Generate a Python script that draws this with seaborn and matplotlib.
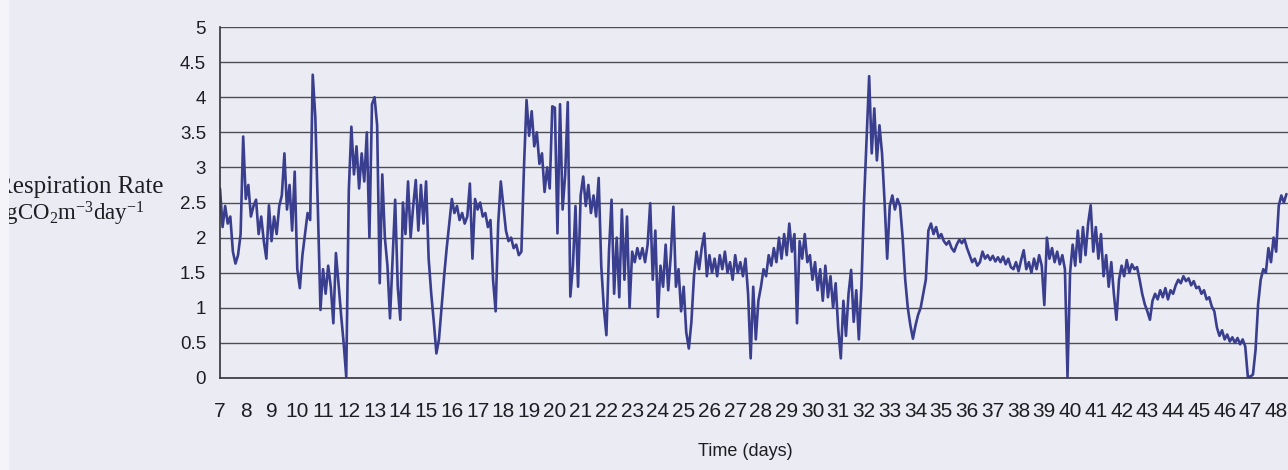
import numpy as np
import pandas as pd
import matplotlib
matplotlib.use("Agg")
import matplotlib.pyplot as plt
from matplotlib.patches import Rectangle
import seaborn as sns

rate = [
    # day 7
    2.70, 2.15, 2.45, 2.20, 2.30, 1.80, 1.63, 1.75, 2.05, 3.44,
    # day 8
    2.55, 2.75, 2.30, 2.45, 2.54, 2.05, 2.30, 1.95, 1.70, 2.46,
    # day 9
    1.95, 2.30, 2.05, 2.45, 2.60, 3.20, 2.40, 2.75, 2.10, 2.94,
    # day 10
    1.55, 1.28, 1.75, 2.05, 2.35, 2.25, 4.32, 3.72, 2.40, 0.97,
    # day 11
    1.55, 1.20, 1.60, 1.30, 0.78, 1.78, 1.35, 0.90, 0.50, 0.02,
    # day 12
    2.67, 3.58, 2.90, 3.30, 2.70, 3.20, 2.80, 3.50, 2.00, 3.90,
    # day 13
    4.00, 3.60, 1.35, 2.90, 2.00, 1.60, 0.85, 1.70, 2.54, 1.30,
    # day 14
    0.83, 2.50, 2.05, 2.80, 2.00, 2.45, 2.82, 2.10, 2.75, 2.20,
    # day 15
    2.80, 1.70, 1.20, 0.80, 0.35, 0.55, 1.00, 1.45, 1.85, 2.20,
    # day 16
    2.55, 2.35, 2.45, 2.25, 2.35, 2.20, 2.30, 2.77, 1.70, 2.55,
    # day 17
    2.40, 2.50, 2.30, 2.35, 2.15, 2.25, 1.40, 0.95, 2.20, 2.80,
    # day 18
    2.45, 2.10, 1.95, 2.00, 1.85, 1.90, 1.75, 1.80, 3.00, 3.96,
    # day 19
    3.45, 3.80, 3.30, 3.50, 3.05, 3.20, 2.65, 3.00, 2.70, 3.87,
    # day 20
    3.85, 2.06, 3.90, 2.40, 2.90, 3.93, 1.16, 1.60, 2.45, 1.30,
    # day 21
    2.60, 2.87, 2.45, 2.75, 2.35, 2.60, 2.30, 2.85, 1.60, 1.00,
    # day 22
    0.61, 1.80, 2.54, 1.20, 2.00, 1.15, 2.40, 1.40, 2.30, 1.00,
    # day 23
    1.80, 1.65, 1.85, 1.70, 1.85, 1.65, 1.90, 2.49, 1.40, 2.10,
    # day 24
    0.87, 1.60, 1.30, 1.90, 1.25, 1.75, 2.44, 1.30, 1.55, 0.95,
    # day 25
    1.30, 0.65, 0.42, 0.80, 1.45, 1.80, 1.55, 1.85, 2.06, 1.45,
    # day 26
    1.75, 1.50, 1.70, 1.45, 1.75, 1.55, 1.80, 1.50, 1.65, 1.40,
    # day 27
    1.75, 1.50, 1.65, 1.45, 1.70, 1.20, 0.28, 1.30, 0.55, 1.10,
    # day 28
    1.30, 1.55, 1.45, 1.75, 1.60, 1.85, 1.65, 2.00, 1.70, 2.05,
    # day 29
    1.75, 2.20, 1.80, 2.05, 0.78, 1.95, 1.70, 2.05, 1.65, 1.75,
    # day 30
    1.40, 1.65, 1.25, 1.55, 1.10, 1.60, 1.15, 1.45, 1.00, 1.35,
    # day 31
    0.70, 0.28, 1.10, 0.60, 1.20, 1.54, 0.80, 1.25, 0.55, 1.30,
    # day 32
    2.50, 3.40, 4.30, 3.20, 3.84, 3.10, 3.60, 3.20, 2.50, 1.70,
    # day 33
    2.45, 2.60, 2.40, 2.55, 2.45, 2.00, 1.40, 1.00, 0.75, 0.56,
    # day 34
    0.75, 0.90, 1.00, 1.20, 1.40, 2.10, 2.20, 2.05, 2.15, 2.00,
    # day 35
    2.05, 1.95, 1.90, 1.95, 1.85, 1.80, 1.90, 1.97, 1.92, 1.98,
    # day 36
    1.85, 1.75, 1.65, 1.70, 1.60, 1.65, 1.80, 1.70, 1.75, 1.68,
    # day 37
    1.74, 1.66, 1.72, 1.65, 1.73, 1.62, 1.70, 1.58, 1.55, 1.65,
    # day 38
    1.52, 1.68, 1.82, 1.55, 1.65, 1.50, 1.70, 1.55, 1.75, 1.60,
    # day 39
    1.04, 2.00, 1.70, 1.85, 1.65, 1.80, 1.62, 1.75, 1.55, 0.02,
    # day 40
    1.50, 1.90, 1.60, 2.10, 1.65, 2.15, 1.75, 2.20, 2.46, 1.80,
    # day 41
    2.15, 1.70, 2.05, 1.45, 1.75, 1.30, 1.65, 1.20, 0.83, 1.40,
    # day 42
    1.60, 1.45, 1.68, 1.50, 1.62, 1.55, 1.58, 1.40, 1.20, 1.05,
    # day 43
    0.95, 0.83, 1.10, 1.20, 1.12, 1.25, 1.15, 1.28, 1.12, 1.25,
    # day 44
    1.20, 1.32, 1.40, 1.35, 1.45, 1.38, 1.42, 1.32, 1.38, 1.28,
    # day 45
    1.30, 1.20, 1.25, 1.12, 1.15, 1.02, 0.95, 0.72, 0.60, 0.68,
    # day 46
    0.55, 0.62, 0.52, 0.58, 0.50, 0.57, 0.48, 0.55, 0.45, 0.02,
    # day 47
    0.02, 0.05, 0.40, 1.05, 1.40, 1.55, 1.50, 1.85, 1.65, 2.00,
    # day 48
    1.80, 2.45, 2.60, 2.50, 2.62,
]
start_day = 7.0
step_day = 0.1
day_ticks = list(range(7, 49))
y_ticks = [0, 0.5, 1, 1.5, 2, 2.5, 3, 3.5, 4, 4.5, 5]
y_tick_labels = ["0", "0.5", "1", "1.5", "2", "2.5", "3", "3.5", "4", "4.5", "5"]

df = pd.DataFrame({
    "day": np.round(start_day + step_day * np.arange(len(rate)), 2),
    "rate": rate,
})

bg = "#ebebf3"
line_color = "#3a3e8e"
grid_color = "#4d4d55"
axis_color = "#333338"
text_color = "#1e1e22"

sns.set_theme(style="white")
plt.rcParams["font.family"] = ["Liberation Sans", "DejaVu Sans"]
plt.rcParams["mathtext.fontset"] = "custom"
plt.rcParams["mathtext.rm"] = "Liberation Serif"
plt.rcParams["mathtext.it"] = "Liberation Serif:italic"

W, H = 1288, 470
fig = plt.figure(figsize=(W / 100, H / 100), dpi=100, facecolor=bg)
ax = fig.add_axes([220 / W, 1 - 378 / H, 1 - 220 / W, (378 - 27) / H])
ax.set_facecolor(bg)

ax.grid(axis="y", color=grid_color, linewidth=1.0)
ax.grid(axis="x", visible=False)
ax.set_axisbelow(True)

sns.lineplot(data=df, x="day", y="rate", ax=ax, color=line_color,
             linewidth=1.9, estimator=None, sort=False)

ax.set_xlim(7, 48.46)
ax.set_ylim(0, 5)
ax.set_xticks(day_ticks)
ax.set_xticklabels([str(d) for d in day_ticks])
ax.set_yticks(y_ticks)
ax.set_yticklabels(y_tick_labels)
ax.set_xlabel("")
ax.set_ylabel("")

for side in ["top", "right"]:
    ax.spines[side].set_visible(False)
for side in ["left", "bottom"]:
    ax.spines[side].set_color(axis_color)
    ax.spines[side].set_linewidth(1.2)

ax.tick_params(axis="x", direction="out", length=6, width=1.0, color=axis_color,
               pad=11, labelsize=15, labelcolor=text_color)
ax.tick_params(axis="y", direction="out", length=5, width=1.0, color=axis_color,
               pad=5, labelsize=13.5, labelcolor=text_color)

fig.text(745 / W, 1 - 452 / H, "Time (days)", ha="center", va="center",
         fontsize=13, color=text_color)

fig.text(163 / W, 1 - 193 / H, "Respiration Rate", ha="right", va="baseline",
         family="Liberation Serif", fontsize=18, color=text_color)
fig.text(145 / W, 1 - 220 / H, r"mgCO$_2$m$^{-3}$day$^{-1}$", ha="right",
         va="baseline", family="Liberation Serif", fontsize=16.5, color=text_color)

fig.add_artist(Rectangle((0, 0), 9 / W, 1, transform=fig.transFigure,
                         facecolor="#f4f4f9", edgecolor="none", zorder=10))

fig.savefig("out.png", dpi=100, facecolor=bg)
